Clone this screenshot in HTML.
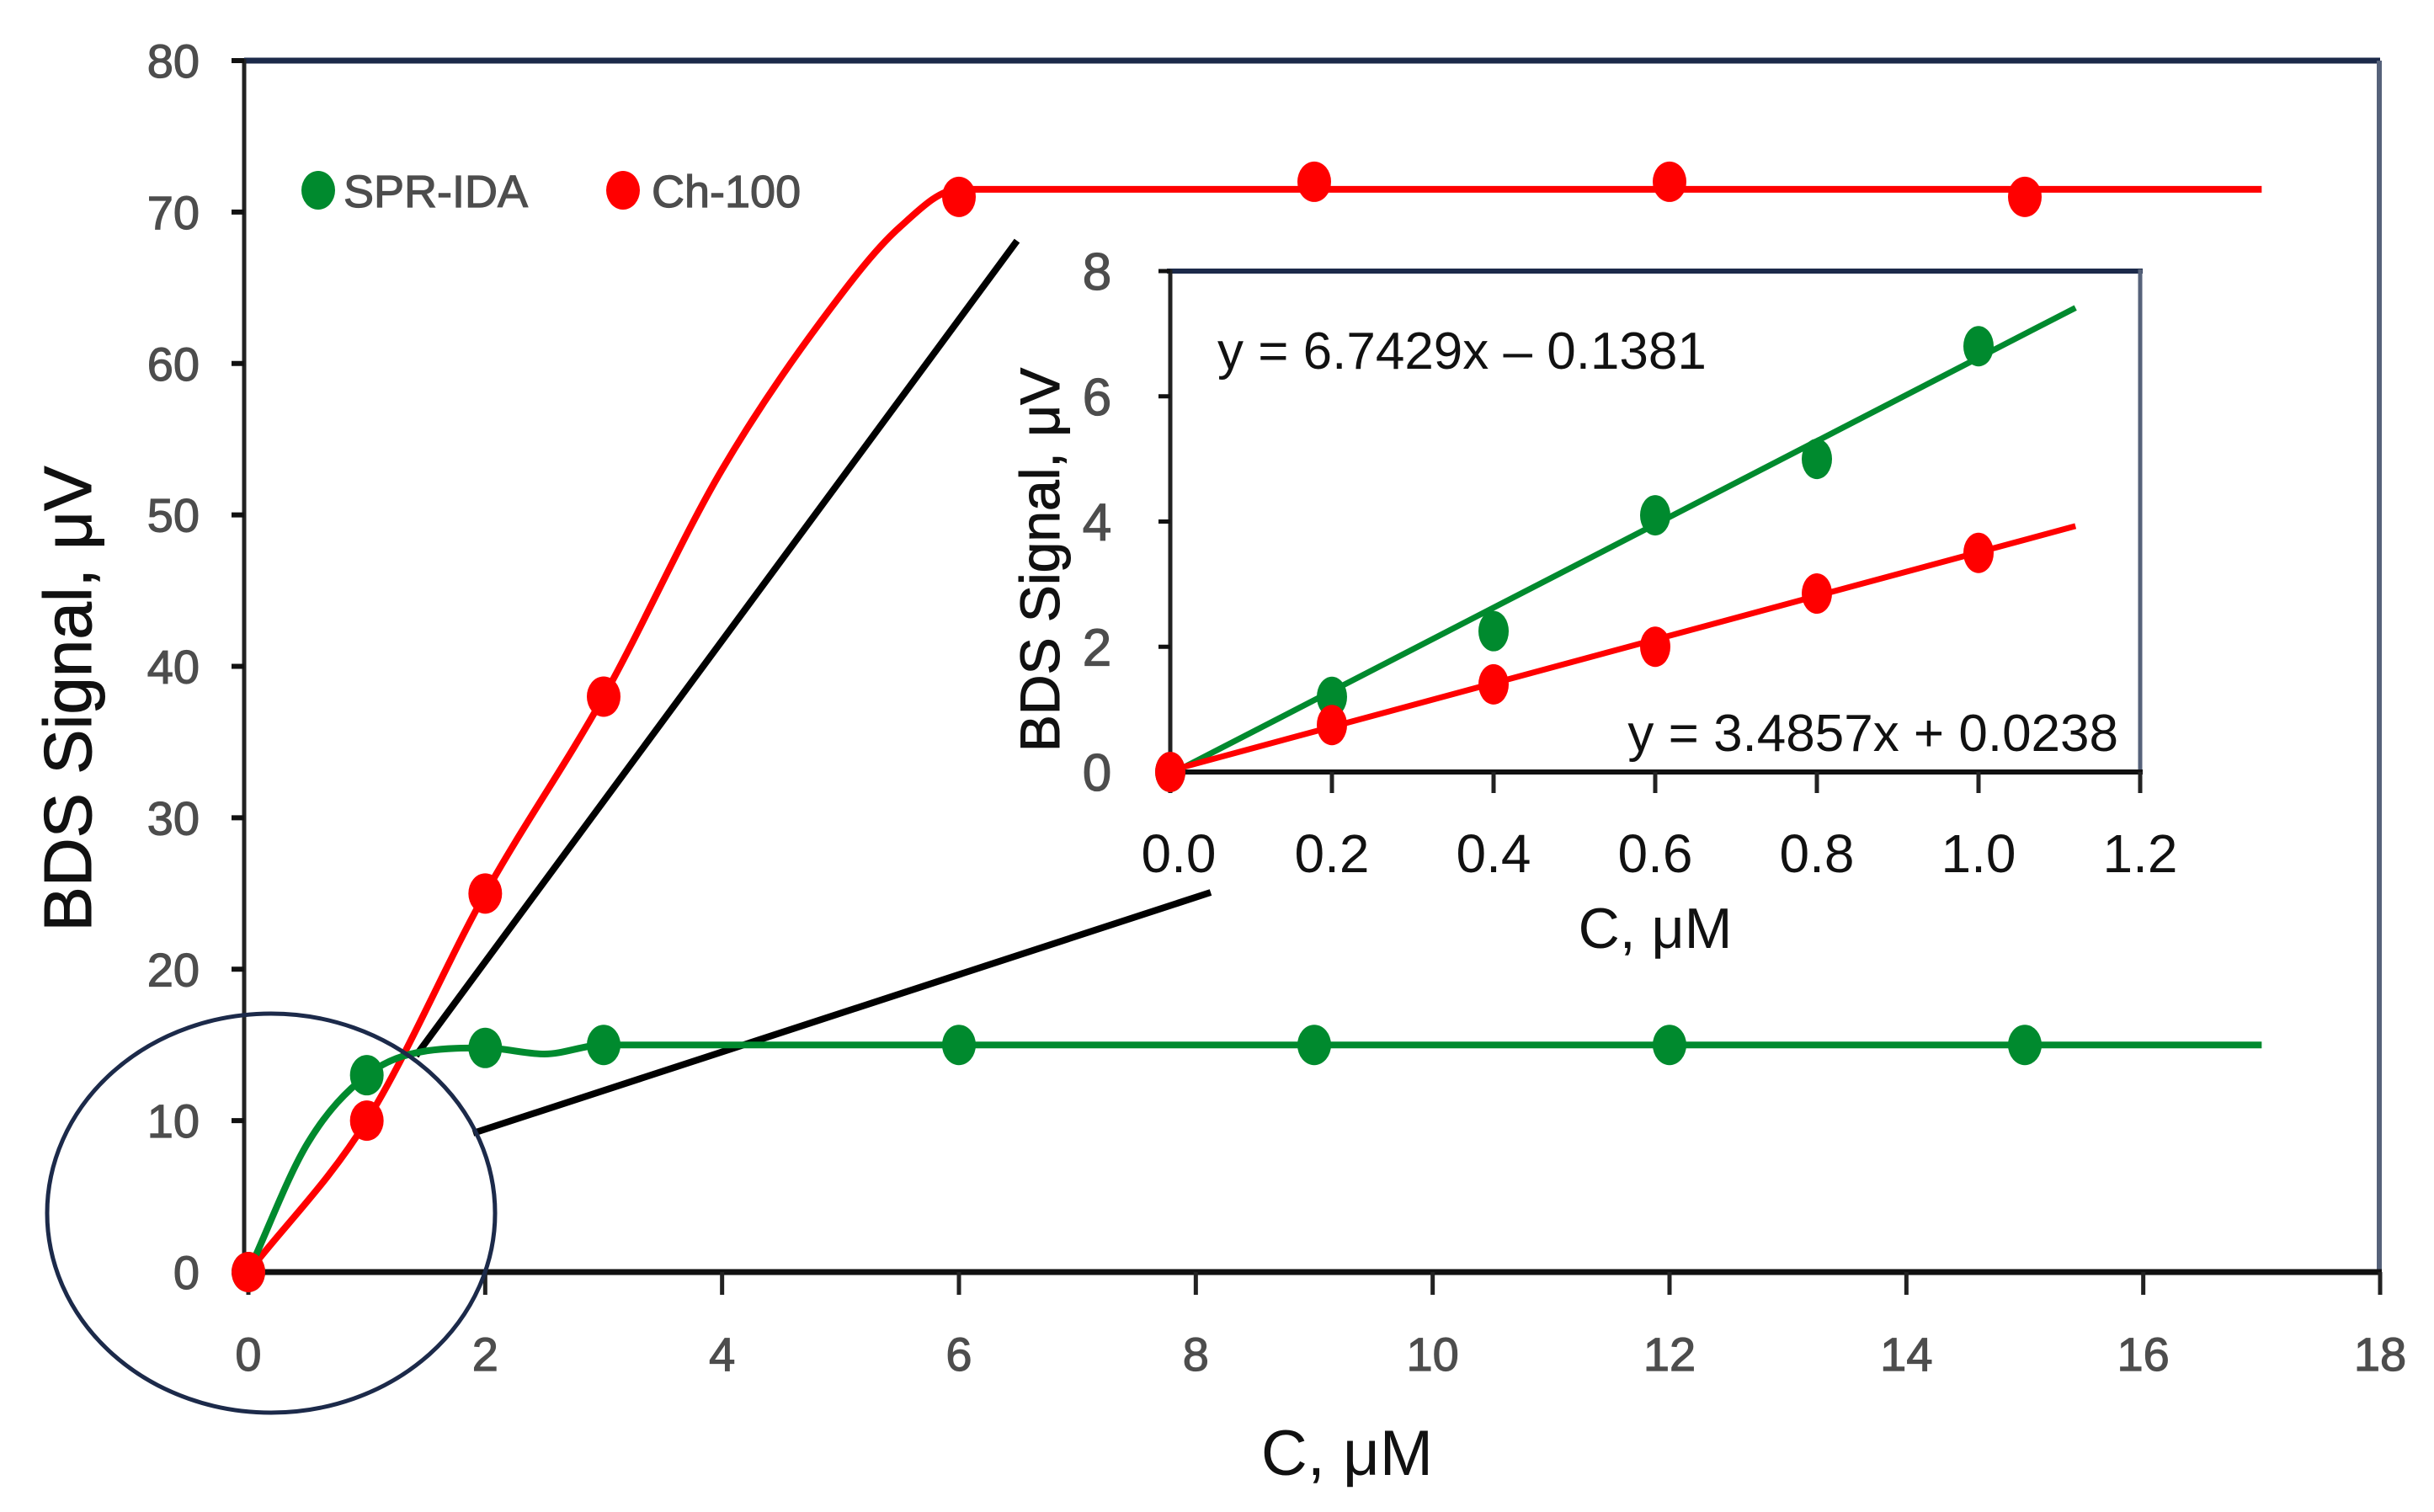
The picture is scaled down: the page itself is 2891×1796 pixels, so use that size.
<!DOCTYPE html>
<html><head><meta charset="utf-8"><style>
html,body{margin:0;padding:0;background:#fff;}
svg{display:block;}
text{font-family:"Liberation Sans",sans-serif;}
</style></head><body>
<svg id="chart" width="2891" height="1796" viewBox="0 0 2891 1796" xmlns="http://www.w3.org/2000/svg">
<g id="main"></g>
<g id="inset"></g>
</svg>
<script>
// Main chart data
const mainXTicks = [0,2,4,6,8,10,12,14,16,18];
const mainYTicks = [0,10,20,30,40,50,60,70,80];
const sprX = [0,1,2,3,6,9,12,15];
const sprY = [0,13,14.8,15,15,15,15,15];
const chX = [0,1,2,3,6,9,12,15];
const chY = [0,10,25,38,71,72,72,71];
const sprCurveX = [0,0.5,1,1.5,2,2.5,3,6,9,12,15,17];
const sprCurveY = [0,8.5,13,14.6,14.8,14.4,15,15,15,15,15,15];
const chCurveX = [0,1,2,3,4,5,5.5,6,9,12,15,17];
const chCurveY = [0,10,25,38,53,64.5,69,71.5,71.5,71.5,71.5,71.5];
// Inset data
const insXTicks = [0.0,0.2,0.4,0.6,0.8,1.0,1.2];
const insXLabels = ["0.0","0.2","0.4","0.6","0.8","1.0","1.2"];
const insYTicks = [0,2,4,6,8];
const insSprX = [0,0.2,0.4,0.6,0.8,1.0];
const insSprY = [0,1.2,2.25,4.1,5.0,6.8];
const insChX = [0,0.2,0.4,0.6,0.8,1.0];
const insChY = [0,0.75,1.4,2.0,2.85,3.5];
const insSprFit = [6.7429,-0.1381];
const insChFit = [3.4857,0.0238];
const fitRange = [0.02,1.12];

const NS="http://www.w3.org/2000/svg";
function mk(parent,tag,attrs,txt){const e=document.createElementNS(NS,tag);for(const k in attrs)e.setAttribute(k,attrs[k]);if(txt!==undefined)e.textContent=txt;parent.appendChild(e);return e;}
const GREEN="#008a2e", RED="#ff0000", NAVY="#1c2a4a";
const LBL={fill:'#4d4d4d',stroke:'#4d4d4d','stroke-width':1.2};

// main axes
const mx=v=>295+v*(2827-295)/18;
const my=v=>1511-v*(1511-72)/80;
const M=document.getElementById('main');
let e;
e=mk(M,'line',{x1:290,y1:72,x2:2827,y2:72,stroke:NAVY,'stroke-width':7});


e=mk(M,'line',{x1:2826,y1:72,x2:2826,y2:1511,stroke:'#56627a','stroke-width':6});


e=mk(M,'line',{x1:290,y1:70,x2:290,y2:1514,stroke:'#222','stroke-width':5});


e=mk(M,'line',{x1:288,y1:1511,x2:2829,y2:1511,stroke:'#111','stroke-width':7});


mainYTicks.forEach(v=>{
  e=mk(M,'line',{x1:275,y1:my(v),x2:290,y2:my(v),stroke:'#111','stroke-width':6});
  
  
  e=mk(M,'text',Object.assign({x:237,y:my(v)+20,'text-anchor':'end','font-size':56},LBL),String(v));
  
  
});
mainXTicks.forEach(v=>{
  e=mk(M,'line',{x1:mx(v),y1:1511,x2:mx(v),y2:1538,stroke:'#222','stroke-width':5});
  
  
  e=mk(M,'text',Object.assign({x:mx(v),y:1628,'text-anchor':'middle','font-size':56},LBL),String(v));
  
  
});
e=mk(M,'text',{x:0,y:0,'text-anchor':'middle','font-size':80,fill:'#111',stroke:'#111','stroke-width':1,transform:'translate(108,830) rotate(-90)'},'BDS Signal, μV');


e=mk(M,'text',{x:1600,y:1752,'text-anchor':'middle','font-size':76,fill:'#111'},'C, μM');



// legend
e=mk(M,'ellipse',{cx:378,cy:226,rx:20,ry:23,fill:GREEN});


e=mk(M,'text',Object.assign({x:408,y:246,'font-size':54},LBL),'SPR-IDA');


e=mk(M,'ellipse',{cx:740,cy:226,rx:20,ry:23,fill:RED});


e=mk(M,'text',Object.assign({x:774,y:246,'font-size':54},LBL),'Ch-100');



// monotone cubic (Fritsch-Carlson)
function smoothPath(xs,ys,fx,fy){
  const n=xs.length, d=[], m=new Array(n);
  for(let i=0;i<n-1;i++) d.push((ys[i+1]-ys[i])/(xs[i+1]-xs[i]));
  m[0]=d[0]; m[n-1]=d[n-2];
  for(let i=1;i<n-1;i++){ m[i]=(d[i-1]*d[i]<=0)?0:(d[i-1]+d[i])/2; }
  for(let i=0;i<n-1;i++){
    if(d[i]===0){m[i]=0;m[i+1]=0;continue;}
    const a=m[i]/d[i], b=m[i+1]/d[i], s=a*a+b*b;
    if(s>9){const t=3/Math.sqrt(s); m[i]=t*a*d[i]; m[i+1]=t*b*d[i];}
  }
  let p='M'+fx(xs[0])+','+fy(ys[0]);
  for(let i=0;i<n-1;i++){
    const h=xs[i+1]-xs[i];
    p+=' C'+fx(xs[i]+h/3)+','+fy(ys[i]+m[i]*h/3)+' '+fx(xs[i+1]-h/3)+','+fy(ys[i+1]-m[i+1]*h/3)+' '+fx(xs[i+1])+','+fy(ys[i+1]);
  }
  return p;
}
// connector lines
e=mk(M,'line',{x1:494,y1:1254,x2:1208,y2:286,stroke:'#000','stroke-width':8});


e=mk(M,'line',{x1:562,y1:1346,x2:1438,y2:1060,stroke:'#000','stroke-width':8});



e=mk(M,'path',{d:smoothPath(chCurveX,chCurveY,mx,my),fill:'none',stroke:RED,'stroke-width':8});


e=mk(M,'path',{d:smoothPath(sprCurveX,sprCurveY,mx,my),fill:'none',stroke:GREEN,'stroke-width':8});


sprX.forEach((x,i)=>{
  e=mk(M,'ellipse',{cx:mx(x),cy:my(sprY[i]),rx:20,ry:24,fill:GREEN});
  
  
});
chX.forEach((x,i)=>{
  e=mk(M,'ellipse',{cx:mx(x),cy:my(chY[i]),rx:20,ry:24,fill:RED});
  
  
});
e=mk(M,'ellipse',{cx:322,cy:1441,rx:266,ry:237,fill:'none',stroke:NAVY,'stroke-width':5});



// inset
const I=document.getElementById('inset');
const ix=v=>1390+v*(2542-1390)/1.2;
const iy=v=>917-v*(917-322)/8;
e=mk(I,'rect',{x:1390,y:322,width:1152,height:595,fill:'#fff'});


e=mk(I,'line',{x1:1386,y1:322,x2:2545,y2:322,stroke:NAVY,'stroke-width':6});


e=mk(I,'line',{x1:2542,y1:320,x2:2542,y2:917,stroke:'#56627a','stroke-width':5});


e=mk(I,'line',{x1:1390,y1:320,x2:1390,y2:920,stroke:'#222','stroke-width':5});


e=mk(I,'line',{x1:1388,y1:917,x2:2545,y2:917,stroke:'#111','stroke-width':6});


insYTicks.forEach(v=>{
  e=mk(I,'line',{x1:1376,y1:iy(v),x2:1390,y2:iy(v),stroke:'#111','stroke-width':5});
  
  
  e=mk(I,'text',Object.assign({x:1303,y:iy(v)+22,'text-anchor':'middle','font-size':62},LBL),String(v));
  
  
});
insXTicks.forEach((v,i)=>{
  e=mk(I,'line',{x1:ix(v),y1:917,x2:ix(v),y2:942,stroke:'#222','stroke-width':5});
  
  
  e=mk(I,'text',{x:ix(v)+(i===0?10:0),y:1036,'text-anchor':'middle','font-size':64,fill:'#111'},insXLabels[i]);
  
  
});
e=mk(I,'text',{x:0,y:0,'text-anchor':'middle','font-size':66,fill:'#111',stroke:'#111','stroke-width':1,transform:'translate(1258,665) rotate(-90)'},'BDS Signal, μV');


e=mk(I,'text',{x:1966,y:1126,'text-anchor':'middle','font-size':68,fill:'#111'},'C, μM');


e=mk(I,'line',{x1:ix(fitRange[0]),y1:iy(insSprFit[0]*fitRange[0]+insSprFit[1]+0.1),x2:ix(fitRange[1]),y2:iy(insSprFit[0]*fitRange[1]+insSprFit[1]),stroke:GREEN,'stroke-width':7});


e=mk(I,'line',{x1:ix(0),y1:iy(insChFit[1]),x2:ix(fitRange[1]),y2:iy(insChFit[0]*fitRange[1]+insChFit[1]),stroke:RED,'stroke-width':7});


insSprX.forEach((x,i)=>{
  e=mk(I,'ellipse',{cx:ix(x),cy:iy(insSprY[i]),rx:18,ry:24,fill:GREEN});
  
  
});
insChX.forEach((x,i)=>{
  e=mk(I,'ellipse',{cx:ix(x),cy:iy(insChY[i]),rx:18,ry:24,fill:RED});
  
  
});
e=mk(I,'text',{x:1446,y:438,'font-size':62,fill:'#111'},'y = 6.7429x – 0.1381');


e=mk(I,'text',{x:2516,y:892,'font-size':62,fill:'#111','text-anchor':'end'},'y = 3.4857x + 0.0238');


</script>
</body></html>
